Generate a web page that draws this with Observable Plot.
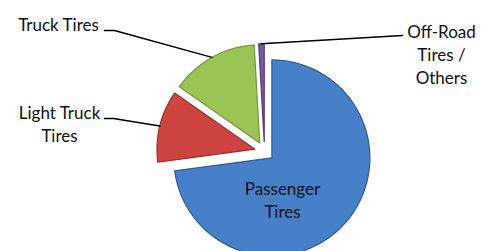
<!DOCTYPE html>
<html><head><meta charset="utf-8">
<script src="https://cdn.jsdelivr.net/npm/d3@7"></script>
<script src="https://cdn.jsdelivr.net/npm/@observablehq/plot@0.6"></script>
<style>html,body{margin:0;padding:0;background:#fff;overflow:hidden}</style>
</head><body><div id="chart"></div>
<script>
// ---- data ----
const categories = ["Passenger Tires", "Light Truck Tires", "Truck Tires", "Off-Road Tires / Others"];
const shares = [72.9, 11.8, 14.4, 0.9];
const labelTexts = ["Passenger\nTires", "Light Truck\nTires", "Truck Tires", "Off-Road\nTires /\nOthers"];

// ---- styles / layout ----
const fills = ["#4680C8", "#CD4440", "#9CC455", "#7C57A6"];
const strokes = ["#2E5D93", "#9B2F2C", "#75973C", "#56397E"];
const W = 488, H = 251;
const cx = 264, cy = 151, R = 98, explode = 0.1 * R;
// label anchor (center x, baseline of last line) and leader elbows
const labelPos = [[282, 217], [59, 141], [58, 30], [441, 83]];
const leaderFrom = [null, [[104, 118], [113, 118]], [[104, 30], [114, 30]], [[402, 35]]];

// ---- geometry from data ----
const arcs = d3.pie().sort(null).value(d => d)(shares);
const slices = arcs.map((a, i) => {
  const mid = (a.startAngle + a.endAngle) / 2;
  const ox = cx + explode * Math.sin(mid), oy = cy - explode * Math.cos(mid);
  const n = Math.max(2, Math.ceil((a.endAngle - a.startAngle) * 180 / Math.PI));
  const pts = [{x: ox, y: oy}];
  for (let k = 0; k <= n; ++k) {
    const t = a.startAngle + (a.endAngle - a.startAngle) * k / n;
    pts.push({x: ox + R * Math.sin(t), y: oy - R * Math.cos(t)});
  }
  pts.push({x: ox, y: oy});
  const anchor = {x: ox + R * Math.sin(mid), y: oy - R * Math.cos(mid)};
  return {pts, anchor};
});

const leaders = [];
slices.forEach((s, i) => {
  if (!leaderFrom[i]) return;
  leaderFrom[i].forEach(p => leaders.push({x: p[0], y: p[1], z: i}));
  leaders.push({x: s.anchor.x, y: s.anchor.y, z: i});
});

const labels = labelTexts.map((t, i) => ({text: t, x: labelPos[i][0], y: labelPos[i][1]}));

const chart = Plot.plot({
  width: W, height: H,
  margin: 0,
  x: {domain: [0, W], range: [0, W], axis: null},
  y: {domain: [0, H], range: [0, H], axis: null},
  style: {background: "#fff", fontFamily: "Lato, sans-serif"},
  marks: [
    ...slices.map((s, i) => Plot.line(s.pts, {x: "x", y: "y", fill: fills[i], stroke: strokes[i], strokeWidth: 1.2, curve: "linear"})),
    Plot.line(leaders, {x: "x", y: "y", z: "z", stroke: "#000", strokeWidth: 1.5}),
    Plot.text(labels, {x: "x", y: "y", text: "text", textAnchor: "middle", lineAnchor: "bottom", lineHeight: 1.33, fontSize: 17, fill: "#111"})
  ]
});
document.getElementById("chart").appendChild(chart);
</script>
</body></html>
